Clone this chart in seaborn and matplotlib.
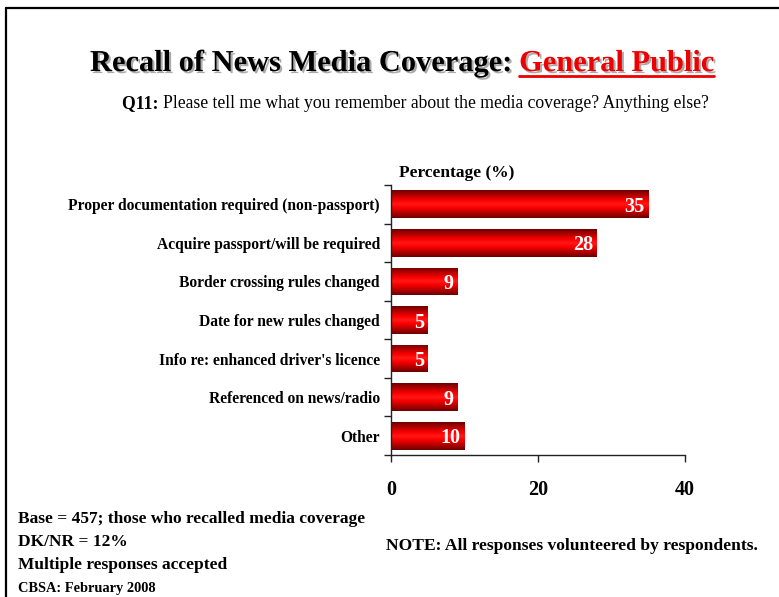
import numpy as np
import pandas as pd
import matplotlib
matplotlib.use("Agg")
import matplotlib.pyplot as plt
import matplotlib.patheffects as pe
from matplotlib.colors import LinearSegmentedColormap
from matplotlib.lines import Line2D
import seaborn as sns

categories = [
    "Proper documentation required (non-passport)",
    "Acquire passport/will be required",
    "Border crossing rules changed",
    "Date for new rules changed",
    "Info re: enhanced driver's licence",
    "Referenced on news/radio",
    "Other",
]
values = [35, 28, 9, 5, 5, 9, 10]
x_ticks = [0, 20, 40]

df = pd.DataFrame({"category": categories, "pct": values})

sns.set_theme(style="white")
plt.rcParams["font.family"] = ["Liberation Serif", "DejaVu Serif"]
plt.rcParams.update({"text.color": "black", "axes.labelcolor": "black",
                     "xtick.color": "black", "ytick.color": "black"})

W, H = 779, 597
fig = plt.figure(figsize=(W / 100, H / 100), dpi=100)
ax = fig.add_axes([391 / W, 1 - 455 / H, (685 - 391) / W, (455 - 185) / H])

sns.barplot(data=df, y="category", x="pct", orient="h", ax=ax, width=0.72,
            color="red", saturation=1)

# vertical red gradient inside every bar
cmap = LinearSegmentedColormap.from_list(
    "bar", [(0, "#6a0000"), (0.38, "#ff0000"), (0.5, "#ff1a1a"),
            (0.62, "#ff0000"), (1, "#6a0000")])
grad = np.linspace(0, 1, 256).reshape(-1, 1)
for bar, v in zip(ax.patches, values):
    x0, y0 = bar.get_x(), bar.get_y()
    w, h = bar.get_width(), bar.get_height()
    bar.set_facecolor("none")
    bar.set_edgecolor("none")
    im = ax.imshow(grad, cmap=cmap, aspect="auto", extent=(x0, x0 + w, y0 + h, y0),
                   zorder=2, interpolation="bilinear")
    im.set_clip_path(bar)
    ax.text(x0 + w - 0.5, y0 + h / 2, f"{v}", ha="right", va="center_baseline",
            color="white", fontsize=14.5, fontweight="bold", zorder=3)

ax.set_xlim(0, 40)
ax.set_ylim(len(categories) - 0.5, -0.5)
ax.set_xticks(x_ticks)
ax.set_xticklabels([str(t) for t in x_ticks], fontsize=14.5, fontweight="bold",
                   color="black")
ax.tick_params(axis="x", direction="out", length=5, width=1, color="#222222",
               pad=13, bottom=True)
ax.set_yticks(range(len(categories)))
ax.set_yticklabels(categories, fontsize=11.2, fontweight="bold", color="black")
ax.tick_params(axis="y", which="major", length=0, pad=8)
ax.set_yticks(np.arange(-0.5, len(categories), 1), minor=True)
ax.tick_params(axis="y", which="minor", direction="out", length=5, width=1,
               color="#222222", left=True)
ax.set_xlabel("")
ax.set_ylabel("")
sns.despine(ax=ax)
for s in ("left", "bottom"):
    ax.spines[s].set_color("#222222")
    ax.spines[s].set_linewidth(1)
ax.set_facecolor("none")

ax.text((399 - 391) / (685 - 391), 1 + 8 / 270,
        "Percentage (%)", transform=ax.transAxes, ha="left", va="baseline",
        fontsize=12.5, fontweight="bold", color="black")

# frame lines around the slide
fig.add_artist(Line2D([6 / W, 6 / W], [0, 1 - 8 / H], transform=fig.transFigure,
                      color="black", lw=1.6))
fig.add_artist(Line2D([6 / W, 1], [1 - 8 / H, 1 - 8 / H], transform=fig.transFigure,
                      color="black", lw=1.6))

shadow = [pe.SimplePatchShadow(offset=(1.5, -1.5), shadow_rgbFace="#888888", alpha=0.7),
          pe.Normal()]

fig.canvas.draw()
renderer = fig.canvas.get_renderer()

t1 = fig.text(90 / W, 1 - 71 / H, "Recall of News Media Coverage: ", ha="left",
              va="baseline", fontsize=21.9, fontweight="bold", color="black",
              path_effects=shadow)
bb = t1.get_window_extent(renderer)
t2 = fig.text(bb.x1 / W, 1 - 71 / H, "General Public", ha="left", va="baseline",
              fontsize=21.9, fontweight="bold", color="#ee0000", path_effects=shadow)
bb2 = t2.get_window_extent(renderer)
uy = 1 - 76 / H
fig.add_artist(Line2D([bb2.x0 / W, bb2.x1 / W], [uy, uy], transform=fig.transFigure,
                      color="#ee0000", lw=2, path_effects=shadow))

s1 = fig.text(122 / W, 1 - 108 / H, "Q11: ", ha="left", va="baseline",
              fontsize=12.7, fontweight="bold", color="black")
sb = s1.get_window_extent(renderer)
fig.text(sb.x1 / W, 1 - 108 / H,
         "Please tell me what you remember about the media coverage? Anything else?",
         ha="left", va="baseline", fontsize=12.7, color="black")

notes = [
    ("Base = 457; those who recalled media coverage", 523, 12.5),
    ("DK/NR = 12%", 546, 12.5),
    ("Multiple responses accepted", 569, 12.5),
    ("CBSA: February 2008", 592, 10.4),
]
for txt, y, fs in notes:
    fig.text(18 / W, 1 - y / H, txt, ha="left", va="baseline", fontsize=fs,
             fontweight="bold", color="black")
fig.text(386 / W, 1 - 550 / H, "NOTE: All responses volunteered by respondents.",
         ha="left", va="baseline", fontsize=12.6, fontweight="bold", color="black")

fig.savefig("out.png", dpi=100, facecolor="white")
